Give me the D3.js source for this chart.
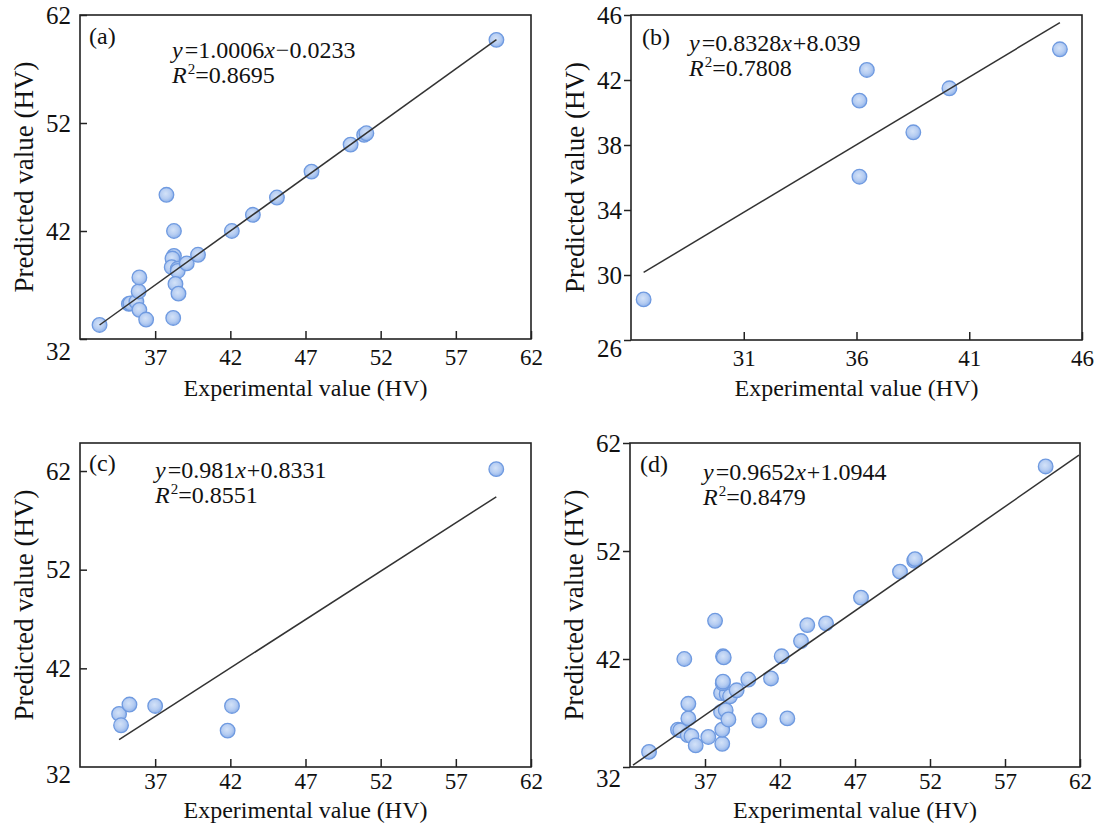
<!DOCTYPE html>
<html>
<head>
<meta charset="utf-8">
<script src="https://cdn.jsdelivr.net/npm/d3@7"></script>
<style>
  body { margin: 0; background: #fff; }
  svg { display: block; }
  svg text { font-family: "Liberation Serif", "Times New Roman", serif; }
</style>
</head>
<body>
<svg></svg>
<script>
var width = 1101,
	height = 827;

// (a)
var aExp  = [33.3, 35.25, 35.35, 35.75, 35.95, 35.9, 35.95, 36.4, 37.75, 38.25, 38.25, 38.15, 38.1, 38.5, 38.5, 38.35, 38.55, 38.2, 39.1, 39.85, 42.1, 43.5, 45.1, 47.4, 50.0, 50.9, 51.05, 59.7];
var aPred = [33.3, 35.25, 35.3, 35.45, 34.7, 36.4, 37.7, 33.8, 45.35, 42.0, 39.7, 39.45, 38.65, 38.5, 38.3, 37.1, 36.2, 33.95, 39.0, 39.8, 42.0, 43.5, 45.1, 47.5, 50.0, 50.9, 51.05, 59.7];
// (b)
var bExp  = [26.56, 36.13, 36.13, 36.46, 38.52, 40.12, 45.02];
var bPred = [28.5, 36.05, 40.73, 42.62, 38.78, 41.49, 43.89];
// (c)
var cExp  = [34.6, 34.73, 35.29, 37.0, 41.82, 42.11, 59.69];
var cPred = [37.38, 36.23, 38.33, 38.19, 35.69, 38.19, 62.19];
// (d)
var dExp  = [33.27, 35.2, 35.35, 35.85, 36.1, 36.38, 35.89, 35.89, 35.62, 37.22, 38.15, 38.15, 38.07, 38.38, 38.56, 38.07, 38.44, 38.67, 39.11, 38.18, 38.2, 38.2, 38.25, 39.89, 41.4, 40.62, 42.49, 42.11, 43.4, 43.82, 45.07, 37.67, 47.4, 50.0, 50.95, 51.0, 59.71];
var dPred = [33.4, 35.45, 35.4, 34.95, 34.85, 34.0, 36.5, 37.85, 42.0, 34.78, 34.15, 35.45, 37.1, 37.25, 36.4, 38.85, 38.75, 38.55, 39.1, 39.75, 39.9, 42.25, 42.15, 40.1, 40.2, 36.3, 36.5, 42.25, 43.66, 45.14, 45.3, 45.54, 47.68, 50.09, 51.1, 51.25, 59.83];

// fits: slope, intercept, R2
var fitSlope     = [1.0006, 0.8328, 0.981, 0.9652];
var fitIntercept = [-0.0233, 8.039, 0.8331, 1.0944];
var fitR2        = ["0.8695", "0.7808", "0.8551", "0.8479"];
// x range the fitted line is drawn over
var fitFrom = [33.3, 26.56, 34.6, 32.2];
var fitTo   = [59.7, 45.02, 59.69, 61.93];

var panelNames = ["(a)", "(b)", "(c)", "(d)"];
var xTicksA = [37, 42, 47, 52, 57, 62], yTicksA = [32, 42, 52, 62];
var xTicksB = [31, 36, 41, 46], yTicksB = [26, 30, 34, 38, 42, 46];

var svg = d3.select("svg")
			.attr("width", width)
			.attr("height", height);

var defs = svg.append("defs");
var grad = defs.append("radialGradient")
	.attr("id", "dot")
	.attr("cx", "45%").attr("cy", "42%").attr("r", "58%");
grad.append("stop").attr("offset", "0%").attr("stop-color", "#d3e2f8");
grad.append("stop").attr("offset", "60%").attr("stop-color", "#b6cdf2");
grad.append("stop").attr("offset", "100%").attr("stop-color", "#8fb2ea");

var panels = [
	{ i: 0, xs: aExp, ys: aPred, left: 80, top: 15, right: 531, bottom: 339,
	  xd: [32, 62], yd: [32, 62], xt: xTicksA, yt: yTicksA, tickIn: true, pad: 10,
	  lab: [89, 44], eq: [172, 58], titleY: 396, minShift: 12 },
	{ i: 1, xs: bExp, ys: bPred, left: 631, top: 15, right: 1082, bottom: 340,
	  xd: [26, 46], yd: [26, 46], xt: xTicksB, yt: yTicksB, tickIn: false, pad: 10,
	  lab: [642, 45], eq: [689, 51], titleY: 396, minShift: 8 },
	{ i: 2, xs: cExp, ys: cPred, left: 80, top: 443, right: 531, bottom: 767,
	  xd: [32, 62], yd: [32, 64.84], xt: xTicksA, yt: [42, 52, 62], tickIn: true, pad: 6,
	  lab: [89, 471], eq: [155, 478], titleY: 818, minShift: 12 },
	{ i: 3, xs: dExp, ys: dPred, left: 630, top: 443, right: 1080, bottom: 767,
	  xd: [32, 62], yd: [32, 62], xt: xTicksA, yt: yTicksA, tickIn: false, pad: 6,
	  lab: [640, 472], eq: [703, 480], titleY: 818, minShift: 11 }
];

panels.forEach(function(p) {
	var x = d3.scaleLinear().domain(p.xd).range([p.left, p.right]);
	var y = d3.scaleLinear().domain(p.yd).range([p.bottom, p.top]);
	var g = svg.append("g");

	// x axis, ticks pointing inward
	var xa = g.append("g")
		.attr("transform", "translate(0," + p.bottom + ")")
		.call(d3.axisBottom(x).tickValues(p.xt).tickSize(-8).tickPadding(p.pad).tickFormat(d3.format("d")));
	xa.attr("font-family", null).attr("font-size", null);
	xa.select(".domain").remove();
	xa.selectAll("line").attr("stroke", "#222").attr("stroke-width", 1.5);
	xa.selectAll("text").style("font-size", "23px").attr("fill", "#111");

	// y axis
	var ya = g.append("g")
		.attr("transform", "translate(" + p.left + ",0)")
		.call(d3.axisLeft(y).tickValues(p.yt).tickSize(p.tickIn ? -7 : 7)
			.tickPadding(p.tickIn ? 9 : 2).tickFormat(d3.format("d")));
	ya.attr("font-family", null).attr("font-size", null);
	ya.select(".domain").remove();
	ya.selectAll("line").attr("stroke", "#222").attr("stroke-width", 1.5);
	ya.selectAll("text").style("font-size", "25px").attr("fill", "#111");
	ya.selectAll(".tick").filter(function(d) { return d === p.yd[0]; })
		.select("text").attr("dy", (0.32 + p.minShift / 25) + "em");

	// (c) has its 32 label sitting at the corner without a tick
	if (p.i === 2) {
		g.append("text")
			.attr("x", p.left - 9).attr("y", p.bottom + 16)
			.attr("text-anchor", "end").style("font-size", "25px").attr("fill", "#111")
			.text("32");
	}

	// frame
	g.append("rect")
		.attr("x", p.left).attr("y", p.top)
		.attr("width", p.right - p.left).attr("height", p.bottom - p.top)
		.attr("fill", "none").attr("stroke", "#222").attr("stroke-width", 1.6);

	// points
	g.append("g").selectAll("circle")
		.data(p.xs.map(function(v, k) { return [v, p.ys[k]]; }))
		.enter()
		.append("circle")
		.attr("cx", function(d) { return x(d[0]); })
		.attr("cy", function(d) { return y(d[1]); })
		.attr("r", 7.3)
		.attr("fill", "url(#dot)")
		.attr("stroke", "#6f9ae0")
		.attr("stroke-width", 1.3);

	// fitted line
	var k = p.i;
	var fx = [fitFrom[k], fitTo[k]];
	g.append("path")
		.datum(fx.map(function(v) { return [v, fitSlope[k] * v + fitIntercept[k]]; }))
		.attr("d", d3.line().x(function(d) { return x(d[0]); }).y(function(d) { return y(d[1]); }))
		.attr("stroke", "#333")
		.attr("stroke-width", 1.5)
		.attr("fill", "none");

	// panel letter
	g.append("text")
		.attr("x", p.lab[0]).attr("y", p.lab[1])
		.style("font-size", "24px").attr("fill", "#111")
		.text(panelNames[k]);

	// equation
	var b = fitIntercept[k];
	var eq = g.append("text")
		.attr("x", p.eq[0]).attr("y", p.eq[1])
		.style("font-size", "24px").attr("fill", "#111");
	eq.append("tspan").attr("font-style", "italic").text("y");
	eq.append("tspan").attr("dx", 2).text("=" + fitSlope[k]);
	eq.append("tspan").attr("font-style", "italic").text("x");
	eq.append("tspan").attr("dx", 1).text((b < 0 ? "\u2212" : "+") + Math.abs(b));

	var r2 = g.append("text")
		.attr("x", p.eq[0]).attr("y", p.eq[1] + 24.5)
		.style("font-size", "24px").attr("fill", "#111");
	r2.append("tspan").attr("font-style", "italic").text("R");
	r2.append("tspan").attr("dx", 1).style("font-size", "15px").attr("dy", -9).text("2");
	r2.append("tspan").attr("dy", 9).text("=" + fitR2[k]);

	// axis titles
	g.append("text")
		.attr("x", (p.left + p.right) / 2).attr("y", p.titleY)
		.attr("text-anchor", "middle").style("font-size", "24px").attr("fill", "#111")
		.text("Experimental value (HV)");
	g.append("text")
		.attr("transform", "translate(" + (p.left - 47) + "," + ((p.top + p.bottom) / 2) + ") rotate(-90)")
		.attr("text-anchor", "middle").style("font-size", "27px").attr("fill", "#111")
		.text("Predicted value (HV)");
});
</script>
</body>
</html>
